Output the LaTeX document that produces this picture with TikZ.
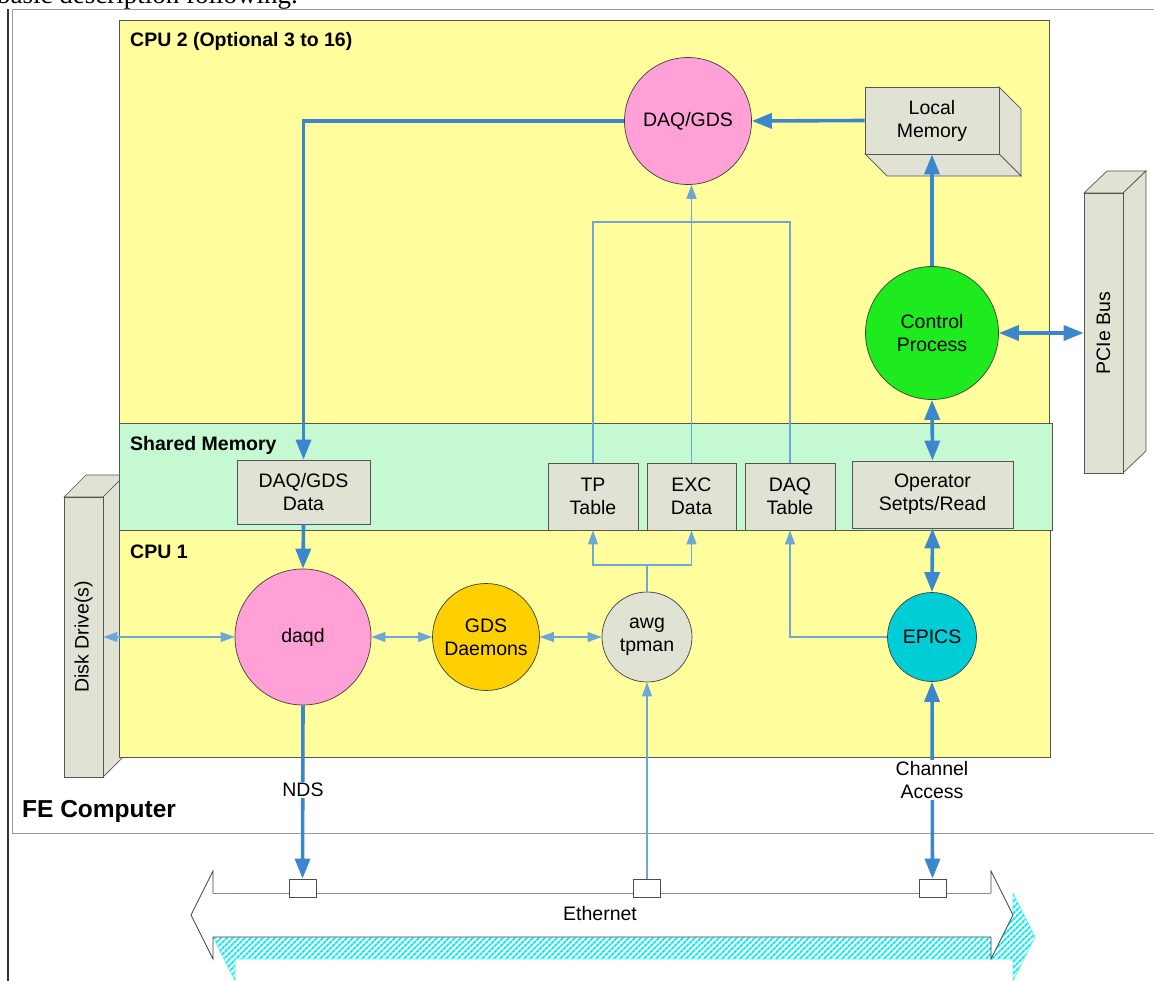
\documentclass[tikz,border=0pt]{standalone}
\usepackage{fontspec}
\setmainfont{Liberation Sans}
\newfontfamily\pageserif{Liberation Serif}
\usetikzlibrary{arrows.meta,patterns.meta,calc}

\definecolor{cpuyellow}{HTML}{FFFD9C}
\definecolor{shmgreen}{HTML}{C4F9D2}
\definecolor{boxgrey}{HTML}{E0E2D3}
\definecolor{daqpink}{HTML}{FFA0D6}
\definecolor{ctrlgreen}{HTML}{1EEB1E}
\definecolor{gdsgold}{HTML}{FFD000}
\definecolor{epicscyan}{HTML}{00CDD6}
\definecolor{thickblue}{HTML}{3B86CC}
\definecolor{thinblue}{HTML}{6CA7D7}
\definecolor{edgegrey}{HTML}{555555}
\definecolor{hatchcyan}{HTML}{00EEF2}

\begin{document}
\begin{tikzpicture}[x=1pt,y=-1pt,
  region/.style={draw=edgegrey, line width=0.8pt},
  rlabel/.style={anchor=base west, inner sep=0pt, font=\fontsize{19.5}{23}\selectfont\bfseries},
  proc/.style={circle, draw=black!75, line width=0.7pt, inner sep=0pt, align=center, font=\fontsize{19.5}{23}\selectfont},
  membox/.style={rectangle, draw=edgegrey, line width=0.8pt, fill=boxgrey, inner sep=0pt, align=center, font=\fontsize{19.5}{23}\selectfont},
  face/.style={draw=edgegrey, line width=0.7pt, fill=boxgrey},
  bigarrow/.style={draw=thickblue, line width=3.6pt, -{Triangle[length=20pt,width=15pt]}},
  bigboth/.style={draw=thickblue, line width=3.6pt, {Triangle[length=20pt,width=15pt]}-{Triangle[length=20pt,width=15pt]}},
  thinline/.style={draw=thinblue, line width=1.1pt},
  thinarrow/.style={draw=thinblue, line width=1.1pt, -{Triangle[length=14pt,width=10pt]}},
  thinboth/.style={draw=thinblue, line width=1.1pt, {Triangle[length=14pt,width=10pt]}-{Triangle[length=14pt,width=10pt]}},
  port/.style={rectangle, draw=black!70, line width=0.8pt, fill=white, minimum width=27pt, minimum height=18pt, inner sep=0pt},
  lbl/.style={fill=white, inner sep=1.5pt, align=center, font=\fontsize{19.5}{23}\selectfont}
]
\useasboundingbox (0,0) rectangle (1154,981);

% page text and borders
\node[anchor=base west, inner sep=0pt, font=\pageserif\fontsize{27}{30}\selectfont] (pagetext) at (-3,4) {basic description following.};
\draw[black!80, line width=1.6pt] (8,9) -- (8,981);
\draw[black!40, line width=1pt] (12,10) -- (1160,10);
\draw[black!40, line width=1pt] (12,10) -- (12,833) -- (1160,833);

% Disk drive (behind the CPU boxes)
\draw[face] (64,497) -- (86,475) -- (125,475) -- (103,497) -- cycle;
\draw[face] (103,497) -- (125,475) -- (125,755) -- (103,777) -- cycle;
\node[membox, minimum width=39pt, minimum height=280pt] (disk) at (83.5,637) {};
\node[rotate=90, font=\fontsize{19.5}{23}\selectfont] (disktext) at (disk.center) {Disk Drive(s)};

% Regions
\draw[region, fill=cpuyellow] (119,20) rectangle (1049,423);
\node[rlabel] (cpu2label) at (130,47) {CPU 2 (Optional 3 to 16)};
\draw[region, fill=shmgreen] (119,423) rectangle (1052,530);
\node[rlabel] (shmlabel) at (130,450) {Shared Memory};
\draw[region, fill=cpuyellow] (119,530) rectangle (1050,757);
\node[rlabel] (cpu1label) at (130,558) {CPU 1};
\node[anchor=base west, inner sep=0pt, font=\fontsize{24.5}{28}\selectfont\bfseries] (felabel) at (22,817) {FE Computer};

% Local memory 3D box
\draw[face] (999,87) -- (1021,109) -- (1021,176) -- (999,154) -- cycle;
\draw[face] (865,154) -- (999,154) -- (1021,176) -- (887,176) -- cycle;
\node[membox, minimum width=134pt, minimum height=67pt] (lm) at (932,120.5) {Local\\Memory};

% PCIe bus 3D box
\draw[face] (1084,193) -- (1107,171) -- (1146,171) -- (1123,193) -- cycle;
\draw[face] (1123,193) -- (1146,171) -- (1146,451) -- (1123,473) -- cycle;
\node[membox, minimum width=39pt, minimum height=280pt] (pci) at (1103.5,333) {};
\node[rotate=90, font=\fontsize{19.5}{23}\selectfont] (pcitext) at (pci.center) {PCIe Bus};

% CPU 2 processes
\node[proc, fill=daqpink, minimum size=127pt] (dg) at (688,121) {DAQ/GDS};
\node[proc, fill=ctrlgreen, minimum size=133pt] (cp) at (932,333) {Control\\Process};

% Shared memory boxes
\node[membox, minimum width=133pt, minimum height=64pt] (dgd) at (303.5,492) {DAQ/GDS\\Data};
\node[membox, minimum width=90pt, minimum height=67pt] (tp) at (593,496.5) {TP\\Table};
\node[membox, minimum width=89pt, minimum height=67pt] (exc) at (691.5,496.5) {EXC\\Data};
\node[membox, minimum width=90pt, minimum height=67pt] (dqt) at (790,496.5) {DAQ\\Table};
\node[membox, minimum width=161pt, minimum height=67pt] (op) at (932.5,494.5) {Operator\\Setpts/Read};

% CPU 1 processes
\node[proc, fill=daqpink, minimum size=136pt] (daqd) at (303,637) {daqd};
\node[proc, fill=gdsgold, minimum size=107pt] (gds) at (486,637) {GDS\\Daemons};
\node[proc, fill=boxgrey, minimum size=90pt] (awg) at (647,637) {awg\\tpman};
\node[proc, fill=epicscyan, minimum size=89pt] (epics) at (932,637) {EPICS};

% Ethernet
\begin{scope}[shift={(22,22)}]
\fill[white] (191,915) -- (213,871) -- (213,893) -- (991,893) -- (991,871) -- (1013,915) -- (991,959) -- (991,937) -- (213,937) -- (213,959) -- cycle;
\fill[pattern={Lines[angle=45,distance=4pt,line width=2pt]}, pattern color=hatchcyan] (191,915) -- (213,871) -- (213,893) -- (991,893) -- (991,871) -- (1013,915) -- (991,959) -- (991,937) -- (213,937) -- (213,959) -- cycle;
\draw[hatchcyan!70, line width=0.6pt] (191,915) -- (213,871) -- (213,893) -- (991,893) -- (991,871) -- (1013,915) -- (991,959) -- (991,937) -- (213,937) -- (213,959) -- cycle;
\end{scope}
\fill[white] (191,915) -- (213,871) -- (213,893) -- (991,893) -- (991,871) -- (1013,915) -- (991,959) -- (991,937) -- (213,937) -- (213,959) -- cycle;
\draw[black!75, line width=0.8pt] (213,893) -- (213,871) -- (191,915) -- (213,959) -- (213,937) -- (991,937) -- (991,959) -- (1013,915) -- (991,871) -- (991,893);
\draw[black!45, line width=1pt] (213,893) -- (991,893);
\node[font=\fontsize{19.5}{23}\selectfont] (ethlabel) at (600,914) {Ethernet};
\node[port] (p1) at (302.5,888) {};
\node[port] (p2) at (647,888) {};
\node[port] (p3) at (932.5,888) {};

% Thin connectors
\draw[thinboth] (disk.east) -- (daqd.west);
\draw[thinboth] (daqd.east) -- (gds.west);
\draw[thinboth] (gds.east) -- (awg.west);
\coordinate (j1) at (647,565);
\draw[thinline] (awg.north) -- (j1);
\draw[thinarrow] (j1) -| (tp.south);
\draw[thinarrow] (j1) -| (exc.south);
\draw[thinarrow] (epics.west) -| (dqt.south);
\coordinate (j2) at (691.5,222);
\draw[thinline] (tp.north) |- (j2) -| (dqt.north);
\draw[thinarrow] (exc.north) -- (exc.north |- dg.south);
\draw[thinarrow] (p2.north) -- (awg.south);

% Thick connectors
\draw[bigarrow] (lm.west) -- (dg.east);
\draw[bigarrow] (cp.north) -- (lm.south);
\draw[bigarrow] (dg.west) -| (dgd.north);
\draw[bigboth] (cp.east) -- (pci.west);
\draw[bigboth] (cp.south) -- (op.north);
\draw[bigboth] (op.south) -- (epics.north);
\draw[bigarrow] (dgd.south) -- (daqd.north);
\draw[bigarrow] (daqd.south) -- (p1.north);
\draw[bigboth] (epics.south) -- (p3.north);
\node[lbl] (nds) at (303,790) {NDS};
\node[lbl] (ca) at (932,780) {Channel\\Access};
\end{tikzpicture}
\end{document}
